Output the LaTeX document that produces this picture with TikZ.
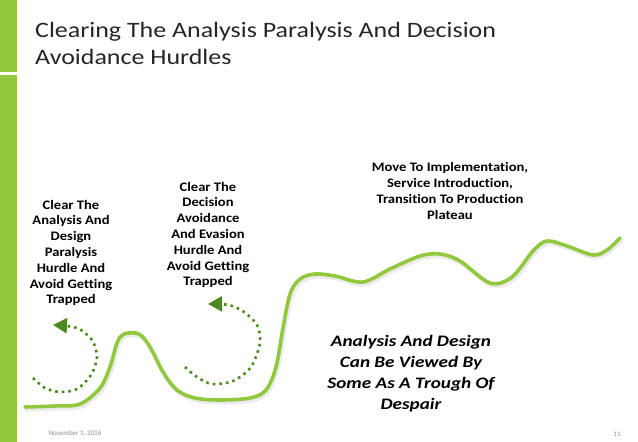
\documentclass[tikz,border=0pt]{standalone}
\usepackage{fontspec}
\setmainfont[Ligatures=NoCommon]{Carlito}
\newfontfamily\titlefont[FakeStretch=1.18, Ligatures=NoCommon]{Carlito}
\newfontfamily\notefont[FakeStretch=1.12, Ligatures=NoCommon]{Carlito}
\newfontfamily\troughfont[FakeStretch=1.2, Ligatures=NoCommon]{Carlito}
\usetikzlibrary{arrows.meta}
\definecolor{leaf}{RGB}{146,200,62}
\definecolor{moss}{RGB}{74,138,30}
\definecolor{ink}{RGB}{38,38,38}

\begin{document}
\begin{tikzpicture}[x=1pt, y=-1pt,
  path/.style={leaf, line width=3.6pt, line cap=round, line join=round},
  loopback/.style={moss, line width=2.6pt, dash pattern=on 2.6pt off 4pt,
    -{Triangle[length=14pt, width=15pt]}},
  heading/.style={anchor=base west, inner sep=0pt, text=ink,
    font=\titlefont\fontsize{22}{27}\selectfont},
  hurdle/.style={align=center, inner sep=0pt, text=black,
    font=\notefont\bfseries\fontsize{13}{15.8}\selectfont},
  trough/.style={align=center, inner sep=0pt, text=black,
    font=\troughfont\bfseries\itshape\fontsize{16}{21}\selectfont},
  foot/.style={inner sep=0pt, text=black!45, font=\fontsize{7}{8}\selectfont}]
  \useasboundingbox (0,0) rectangle (638,442);
  \fill[leaf] (0,0) rectangle (17,72);
  \fill[leaf] (0,75) rectangle (17,442);

  \node[heading] (title) at (35,37) {Clearing The Analysis Paralysis And Decision};
  \node[heading] (subtitle) at (35,64) {Avoidance Hurdles};

  \node[hurdle] (hurdleA) at (71,253)
    {Clear The\\Analysis And\\Design\\Paralysis\\Hurdle And\\Avoid Getting\\Trapped};
  \node[hurdle] (hurdleB) at (208,235)
    {Clear The\\Decision\\Avoidance\\And Evasion\\Hurdle And\\Avoid Getting\\Trapped};
  \node[hurdle] (plateau) at (450,191)
    {Move To Implementation,\\Service Introduction,\\Transition To Production\\Plateau};
  \node[trough] (trough) at (411,374)
    {Analysis And Design\\Can Be Viewed By\\Some As A Trough Of\\Despair};

  \node[foot] (date) at (75,434) {November 1, 2016};
  \node[foot] (page) at (617,434) {11};

  \draw[black!8, line width=4pt, line cap=round, shift={(1.5,2.5)}]
    plot[smooth, tension=0.55] coordinates {
      (25,407) (55,406) (80,404) (100,388) (110,367) (117,343) (124,334)
      (139,334) (150,347) (163,372) (177,390) (195,398) (220,400) (250,398)
      (266,390) (276,367) (283,328) (290,294) (300,279) (315,274) (335,276)
      (363,282) (390,269) (420,256) (440,254) (460,261) (490,283) (512,277)
      (533,251) (547,241) (567,246) (593,255) (607,250) (620,238)};
  \draw[path]
    plot[smooth, tension=0.55] coordinates {
      (25,407) (55,406) (80,404) (100,388) (110,367) (117,343) (124,334)
      (139,334) (150,347) (163,372) (177,390) (195,398) (220,400) (250,398)
      (266,390) (276,367) (283,328) (290,294) (300,279) (315,274) (335,276)
      (363,282) (390,269) (420,256) (440,254) (460,261) (490,283) (512,277)
      (533,251) (547,241) (567,246) (593,255) (607,250) (620,238)};

  \draw[loopback]
    plot[smooth] coordinates {
      (33,378) (45,388) (60,392) (77,389) (91,375) (97,357) (92,340) (77,328) (53,325)};
  \draw[loopback]
    plot[smooth] coordinates {
      (185,367) (197,377) (212,384) (233,381) (251,367) (260,343) (257,325)
      (244,312) (229,305) (208,304)};
\end{tikzpicture}
\end{document}
